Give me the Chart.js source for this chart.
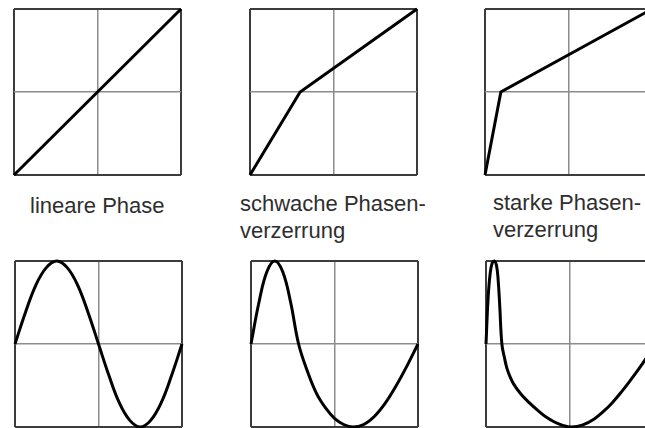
<!DOCTYPE html>
<html>
<head>
<meta charset="utf-8">
<script src="https://cdn.jsdelivr.net/npm/chart.js"></script>
<style>
html,body{margin:0;padding:0;width:645px;height:428px;overflow:hidden;background:#fff}
canvas{position:absolute}
.lbl{position:absolute;font-family:"Liberation Sans",Arial,sans-serif;font-size:22px;line-height:27px;color:#2e2e2e;white-space:nowrap}
</style>
</head>
<body>
<div class="lbl" style="left:30px;top:192px">lineare Phase</div>
<div class="lbl" style="left:240px;top:190px">schwache Phasen-<br>verzerrung</div>
<div class="lbl" style="left:493px;top:189px">starke Phasen-<br>verzerrung</div>
<canvas id="c1"></canvas>
<canvas id="c2"></canvas>
<canvas id="c3"></canvas>
<canvas id="c4"></canvas>
<canvas id="c5"></canvas>
<canvas id="c6"></canvas>
<script>
// phase curves (top row)
const linPhaseX = [-1, 1];
const linPhaseY = [-1, 1];
const weakPhaseX = [-1, -0.4, 1];
const weakPhaseY = [-1, 0, 1];
const strongPhaseX = [-1, -0.81, 1];
const strongPhaseY = [-1, 0, 1];

// resulting waveforms (bottom row)
const linWaveX = [-1, -0.875, -0.75, -0.625, -0.5, -0.375, -0.25, -0.125, 0, 0.125, 0.25, 0.375, 0.5, 0.625, 0.75, 0.875, 1];
const linWaveY = [0, 0.38, 0.71, 0.92, 1, 0.92, 0.71, 0.38, 0, -0.38, -0.71, -0.92, -1, -0.92, -0.71, -0.38, 0];
const weakWaveX = [-1, -0.905, -0.81, -0.715, -0.62, -0.525, -0.43, -0.32, -0.213, -0.1, 0.003, 0.11, 0.22, 0.35, 0.48, 0.61, 0.74, 0.87, 1];
const weakWaveY = [0, 0.5, 0.87, 1, 0.87, 0.5, 0, -0.34, -0.6, -0.78, -0.9, -0.97, -1, -0.97, -0.87, -0.71, -0.5, -0.26, 0];
const strongWaveX = [-1, -0.975, -0.95, -0.925, -0.9, -0.875, -0.855, -0.835, -0.81, -0.78, -0.75, -0.71, -0.67, -0.585, -0.48, -0.38, -0.28, -0.18, -0.08, 0.02, 0.16, 0.3, 0.41, 0.51, 0.62, 0.72, 0.83, 0.94, 1];
const strongWaveY = [0, 0.55, 0.85, 0.98, 1, 0.95, 0.78, 0.45, 0, -0.16, -0.29, -0.4, -0.48, -0.6, -0.71, -0.8, -0.88, -0.94, -0.98, -1, -0.975, -0.9, -0.81, -0.71, -0.58, -0.45, -0.3, -0.14, -0.05];

const PAD = 4, W = 167, H = 166;

const panels = [
    {id:"c1", left:14,  top:9,   xs:linPhaseX,    ys:linPhaseY,    smooth:false},
    {id:"c2", left:250, top:9,   xs:weakPhaseX,   ys:weakPhaseY,   smooth:false},
    {id:"c3", left:485, top:9,   xs:strongPhaseX, ys:strongPhaseY, smooth:false},
    {id:"c4", left:15,  top:261, xs:linWaveX,     ys:linWaveY,     smooth:true},
    {id:"c5", left:251, top:261, xs:weakWaveX,    ys:weakWaveY,    smooth:true},
    {id:"c6", left:486, top:261, xs:strongWaveX,  ys:strongWaveY,  smooth:true}
];

function axis(){
    return {
        type:"linear", min:-1, max:1,
        ticks:{display:false, stepSize:1},
        border:{display:false},
        grid:{
            drawTicks:false,
            color: c => c.tick.value === 0 ? "#8c8c8c" : "#3c3c3c",
            lineWidth: c => c.tick.value === 0 ? 1.5 : 2
        }
    };
}

panels.forEach(p=>{
    const cv = document.getElementById(p.id);
    cv.width = W + 2*PAD;
    cv.height = H + 2*PAD;
    cv.style.left = (p.left - PAD) + "px";
    cv.style.top = (p.top - PAD) + "px";

    new Chart(cv,{
        type:"line",
        data:{
            datasets:[{
                data: p.xs.map((x,i)=>({x:x, y:p.ys[i]})),
                borderColor:"#000",
                borderWidth:3,
                pointRadius:0,
                tension: p.smooth ? 0.4 : 0,
                clip:false
            }]
        },
        options:{
            responsive:false,
            animation:false,
            events:[],
            layout:{padding:PAD},
            plugins:{legend:{display:false}, tooltip:{enabled:false}},
            scales:{x:axis(), y:axis()}
        }
    });
});
</script>
</body>
</html>
